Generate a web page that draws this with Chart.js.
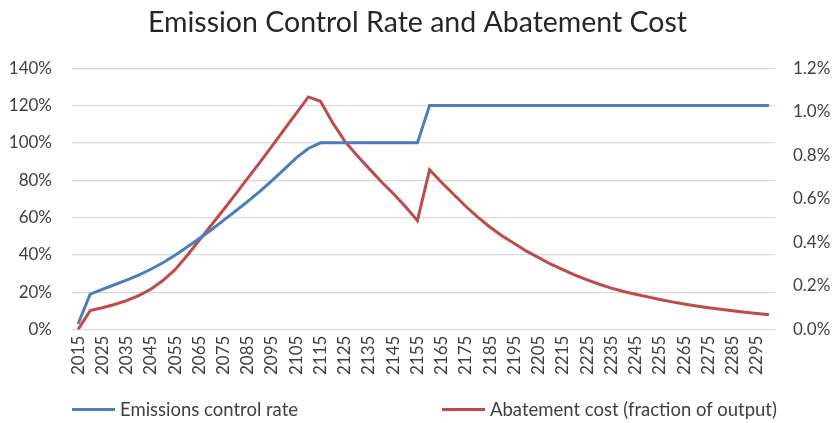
<html lang="en">
  <head>
    <meta charset="UTF-8" />
    <script src="https://cdn.jsdelivr.net/npm/chart.js"></script>
    <title>Emission Control Rate and Abatement Cost</title>
    <style>
      body { margin: 0; background: #fff; }
      #wrap { position: relative; width: 835px; height: 423px; }
      .legend-item { position: absolute; top: 398px; display: flex; align-items: center;
                     font-family: Lato, "Noto Sans", sans-serif; font-size: 18.5px; color: #404040; }
      .legend-line { width: 43px; height: 3px; margin-right: 5px; }
    </style>
  </head>
  <body>
    <div id="wrap">
      <canvas id="costChart" width="835" height="423"></canvas>
      <div class="legend-item" style="left: 72px;">
        <span class="legend-line" style="background: #4a7ebb;"></span>Emissions control rate
      </div>
      <div class="legend-item" style="left: 442px;">
        <span class="legend-line" style="background: #be4b48;"></span>Abatement cost (fraction of output)
      </div>
    </div>
    <script>
        // years on the category axis, every 5 years
        const years = [
            2015, 2020, 2025, 2030, 2035, 2040, 2045, 2050, 2055, 2060,
            2065, 2070, 2075, 2080, 2085, 2090, 2095, 2100, 2105, 2110,
            2115, 2120, 2125, 2130, 2135, 2140, 2145, 2150, 2155, 2160,
            2165, 2170, 2175, 2180, 2185, 2190, 2195, 2200, 2205, 2210,
            2215, 2220, 2225, 2230, 2235, 2240, 2245, 2250, 2255, 2260,
            2265, 2270, 2275, 2280, 2285, 2290, 2295, 2300
        ];

        // emissions control rate, percent (left axis)
        const controlRate = [
            3, 19, 21.5, 24, 26.5, 29.2, 32.3, 35.8, 39.8, 44.2,
            48.8, 53.5, 58.5, 63.5, 68.7, 74, 79.8, 85.8, 92, 97,
            100, 100, 100, 100, 100, 100, 100, 100, 100, 120,
            120, 120, 120, 120, 120, 120, 120, 120, 120, 120,
            120, 120, 120, 120, 120, 120, 120, 120, 120, 120,
            120, 120, 120, 120, 120, 120, 120, 120
        ];

        // abatement cost, percent of output (right axis)
        const abatementCost = [
            0, 0.087, 0.1, 0.115, 0.133, 0.156, 0.185, 0.225, 0.275, 0.34,
            0.41, 0.48, 0.55, 0.622, 0.695, 0.768, 0.842, 0.918, 0.993, 1.068,
            1.048, 0.95, 0.865, 0.8, 0.74, 0.68, 0.625, 0.565, 0.5, 0.734,
            0.675, 0.62, 0.565, 0.515, 0.47, 0.43, 0.395, 0.36, 0.33, 0.3,
            0.275, 0.25, 0.228, 0.208, 0.19, 0.175, 0.162, 0.15, 0.138, 0.127,
            0.117, 0.108, 0.1, 0.093, 0.086, 0.08, 0.074, 0.068
        ];

        const leftTicks = { min: 0, max: 140, step: 20 };
        const rightTicks = { min: 0, max: 1.2, step: 0.2 };

        const fontFamily = 'Lato, "Noto Sans", sans-serif';
        const textColor = '#404040';

        const ctx = document.getElementById('costChart').getContext('2d');

        const costChart = new Chart(ctx, {
            type: 'line',
            data: {
                labels: years,
                datasets: [
                    {
                        label: 'Emissions control rate',
                        data: controlRate,
                        borderColor: '#4a7ebb',
                        borderWidth: 3,
                        pointRadius: 0,
                        tension: 0,
                        yAxisID: 'y'
                    },
                    {
                        label: 'Abatement cost (fraction of output)',
                        data: abatementCost,
                        borderColor: '#be4b48',
                        borderWidth: 3,
                        pointRadius: 0,
                        tension: 0,
                        yAxisID: 'y1'
                    }
                ]
            },
            options: {
                responsive: false,
                animation: false,
                layout: { padding: { left: 0, right: 0, top: 0, bottom: 42 } },
                plugins: {
                    title: {
                        display: true,
                        text: 'Emission Control Rate and Abatement Cost',
                        color: '#262626',
                        font: { family: fontFamily, size: 28.5, weight: 'normal' },
                        padding: { top: 6, bottom: 28 }
                    },
                    legend: { display: false },
                    tooltip: { enabled: false }
                },
                scales: {
                    x: {
                        offset: true,
                        grid: { display: false, drawTicks: false },
                        border: { display: false },
                        ticks: {
                            color: textColor,
                            font: { family: fontFamily, size: 17 },
                            autoSkip: false,
                            minRotation: 90,
                            maxRotation: 90,
                            padding: 6,
                            callback: function (value, index) {
                                return index % 2 === 0 ? years[index] : '';
                            }
                        }
                    },
                    y: {
                        position: 'left',
                        min: leftTicks.min,
                        max: leftTicks.max,
                        afterFit: scale => { scale.width = 72; },
                        grid: { color: '#d9d9d9', lineWidth: 1.3, drawTicks: false },
                        border: { display: false },
                        ticks: {
                            stepSize: leftTicks.step,
                            color: textColor,
                            font: { family: fontFamily, size: 17 },
                            padding: 20,
                            callback: v => v + '%'
                        }
                    },
                    y1: {
                        position: 'right',
                        min: rightTicks.min,
                        max: rightTicks.max,
                        afterFit: scale => { scale.width = 60; },
                        grid: { display: false, drawTicks: false },
                        border: { display: false },
                        ticks: {
                            stepSize: rightTicks.step,
                            color: textColor,
                            font: { family: fontFamily, size: 17 },
                            padding: 18,
                            callback: v => v.toFixed(1) + '%'
                        }
                    }
                }
            }
        });
    </script>
  </body>
</html>
